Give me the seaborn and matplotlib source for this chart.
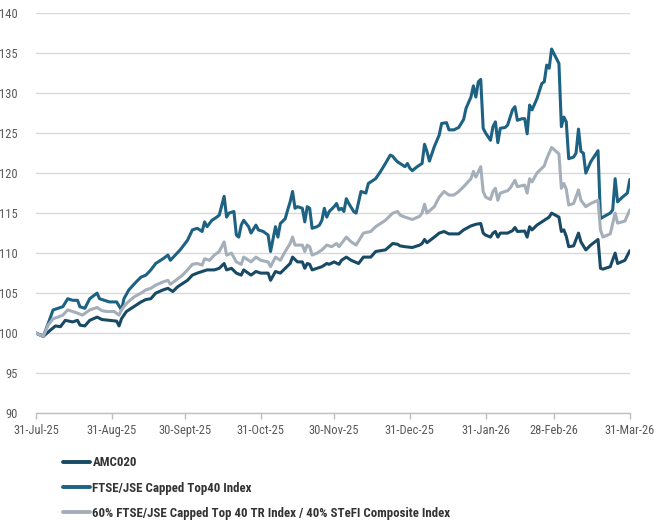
import matplotlib
matplotlib.use("Agg")
import matplotlib.pyplot as plt
import seaborn as sns
import pandas as pd

# ---------------- data (days since 31-Jul-2025, index level) ----------------
start_date = "2025-07-31"

amc_days = [0, 3, 6, 8, 10, 12, 15, 17, 18, 20, 22, 25, 27, 30, 33, 34, 35, 37, 40, 43, 45, 47, 49, 52, 54, 56, 58,
            60, 62, 64, 66, 68, 70, 73, 75, 77, 78, 80, 82, 84, 85, 88, 90, 92, 95, 96, 98, 100, 102, 104, 105, 107,
            109, 110, 111, 112, 113, 115, 117, 119, 120, 122, 124, 125, 127, 129, 132, 134, 137, 139, 143, 146, 148,
            149, 151, 154, 157, 158, 159, 160, 163, 165, 167, 169, 173, 175, 178, 180, 182, 183, 184, 186, 187, 188,
            189, 190, 193, 195, 196, 197, 200, 201, 202, 203, 205, 208, 210, 211, 214, 215, 216, 217, 218, 220, 222,
            223, 225, 227, 230, 231, 232, 235, 237, 238, 241, 243]
amc_values = [100, 99.6, 100.4, 100.9, 100.8, 101.6, 101.4, 101.6, 101.0, 100.9, 101.6, 102.0, 101.7, 101.6, 101.5,
              100.9, 101.8, 102.7, 103.3, 103.9, 104.2, 104.3, 105.0, 105.4, 105.6, 105.2, 105.8, 106.2, 106.6,
              107.25, 107.5, 107.7, 107.9, 107.9, 108.1, 108.7, 107.9, 108.1, 107.5, 107.25, 107.9, 107.25, 107.7,
              107.5, 107.5, 106.6, 107.7, 107.5, 108.1, 108.7, 109.5, 108.9, 108.9, 108.1, 108.7, 108.6, 107.9,
              108.1, 108.3, 108.7, 108.6, 108.9, 108.6, 109.1, 109.5, 109.1, 108.7, 109.5, 109.5, 110.2, 110.4,
              111.2, 111.1, 110.9, 110.8, 110.7, 111.0, 111.2, 111.7, 111.3, 112.0, 112.5, 112.7, 112.4, 112.4,
              112.9, 113.4, 113.6, 113.7, 112.5, 112.25, 112.0, 112.5, 112.7, 112.0, 112.5, 112.5, 112.8, 113.2,
              112.7, 112.75, 112.0, 113.3, 112.9, 113.5, 114.1, 114.5, 115.0, 114.5, 112.7, 112.9, 112.1, 110.8,
              110.9, 112.5, 111.4, 110.4, 111.0, 111.7, 108.1, 108.0, 108.3, 110.0, 108.7, 109.1, 110.3]

ftse_days = [0, 3, 5, 7, 9, 11, 13, 15, 17, 18, 20, 22, 25, 26, 28, 30, 33, 35, 36, 38, 41, 43, 45, 47, 49, 52, 54,
             55, 57, 59, 60, 62, 63, 64, 66, 68, 69, 70, 72, 74, 75, 77, 78, 79, 81, 82, 83, 84, 85, 87, 88, 90, 91,
             93, 95, 96, 98, 99, 100, 102, 103, 104, 105, 106, 107, 109, 110, 111, 112, 113, 115, 116, 117, 118, 119,
             120, 122, 123, 124, 125, 126, 127, 128, 130, 131, 133, 135, 136, 139, 141, 143, 145, 146, 147, 148, 149,
             151, 152, 153, 154, 156, 158, 159, 160, 161, 163, 165, 166, 168, 169, 171, 173, 175, 176, 178, 179, 180,
             181, 182, 183, 184, 186, 187, 188, 189, 190, 192, 193, 195, 196, 197, 199, 200, 201, 202, 203, 205, 207,
             208, 209, 210, 211, 214, 215, 216, 217, 218, 220, 221, 222, 223, 224, 225, 227, 230, 231, 232, 235, 236,
             237, 238, 240, 242, 243]
ftse_values = [100, 99.6, 101.2, 102.9, 103.1, 103.3, 104.3, 104.1, 104.1, 103.3, 103.1, 104.3, 105.0, 104.3, 104.1,
               103.9, 103.9, 102.9, 104.3, 105.4, 106.4, 107.0, 107.25, 107.9, 108.7, 109.3, 109.75, 109.1, 109.75,
               110.4, 110.8, 111.6, 112.25, 112.9, 113.1, 112.7, 113.9, 113.3, 114.1, 114.5, 114.75, 117.1, 114.5,
               115.0, 115.2, 112.25, 112.0, 113.5, 114.1, 113.3, 112.5, 113.5, 112.9, 112.7, 112.25, 110.2, 113.3,
               112.0, 113.7, 114.3, 115.4, 116.4, 117.7, 115.6, 115.8, 115.6, 113.9, 115.8, 115.6, 113.1, 113.3,
               113.5, 114.1, 115.6, 114.5, 115.2, 115.8, 116.2, 115.4, 115.6, 115.2, 116.8, 116.2, 115.2, 115.0,
               117.7, 117.5, 118.7, 119.3, 120.2, 121.2, 122.25, 122.1, 121.7, 121.4, 121.2, 120.8, 121.2, 120.6,
               120.3, 120.8, 121.2, 123.6, 122.7, 121.5, 123.3, 124.75, 126.2, 126.3, 125.4, 125.4, 125.7, 126.7,
               128.1, 129.5, 130.9, 129.5, 131.4, 131.7, 125.6, 125.0, 124.1, 125.8, 126.4, 123.8, 125.6, 125.7,
               126.0, 127.9, 128.3, 126.6, 126.8, 126.8, 124.9, 128.5, 127.9, 129.3, 131.2, 131.4, 133.5, 133.1,
               135.5, 133.7, 125.8, 127.0, 126.4, 121.8, 122.0, 122.5, 125.5, 122.7, 122.5, 120.0, 121.4, 122.8,
               114.3, 114.5, 115.0, 115.4, 119.3, 116.4, 117.0, 117.5, 119.2]

blend_days = [0, 3, 5, 7, 9, 11, 13, 15, 17, 19, 22, 25, 27, 29, 32, 34, 35, 37, 40, 43, 45, 47, 49, 52, 54, 55, 58,
              60, 62, 64, 66, 68, 69, 71, 73, 75, 77, 78, 80, 82, 84, 85, 88, 90, 92, 95, 96, 98, 100, 102, 104, 105,
              106, 109, 110, 111, 112, 113, 115, 117, 119, 121, 123, 124, 127, 129, 131, 134, 137, 139, 143, 146, 148,
              149, 151, 154, 157, 158, 159, 160, 163, 165, 167, 169, 171, 173, 175, 178, 179, 180, 182, 183, 184, 186,
              187, 188, 189, 190, 193, 194, 196, 197, 200, 201, 202, 203, 205, 208, 209, 211, 214, 215, 216, 217, 218,
              220, 222, 223, 225, 227, 230, 231, 232, 235, 237, 238, 241, 243]
blend_values = [100, 99.6, 101.0, 101.8, 102.0, 102.25, 102.9, 102.7, 102.5, 102.25, 102.9, 103.2, 102.8, 102.7,
                102.7, 102.25, 102.9, 103.7, 104.5, 105.0, 105.4, 105.6, 106.0, 106.4, 106.6, 106.1, 106.8, 107.25,
                107.9, 108.6, 108.7, 108.5, 109.3, 109.1, 109.75, 110.2, 111.4, 109.75, 110.0, 108.9, 108.6, 109.5,
                108.9, 109.5, 109.1, 108.9, 108.3, 109.5, 109.1, 110.2, 111.2, 112.0, 111.0, 111.0, 110.2, 111.0,
                110.8, 109.75, 110.0, 110.4, 111.0, 110.8, 111.2, 110.8, 112.0, 111.4, 111.0, 112.5, 112.7, 113.3,
                114.1, 115.0, 115.2, 114.75, 114.5, 114.2, 114.6, 115.0, 116.1, 115.0, 115.8, 117.0, 117.7, 117.25,
                117.25, 117.7, 118.3, 119.3, 120.2, 119.5, 120.8, 117.7, 117.0, 116.7, 117.7, 118.1, 116.6, 117.5,
                117.8, 118.1, 119.1, 118.3, 118.5, 117.5, 119.3, 118.9, 120.0, 120.9, 121.8, 123.2, 122.4, 118.1,
                118.7, 118.0, 116.0, 116.2, 117.9, 116.6, 115.8, 116.2, 116.6, 112.9, 112.0, 112.4, 115.0, 113.75,
                114.0, 115.4]

series_names = ["AMC020",
                "FTSE/JSE Capped Top40 Index",
                "60% FTSE/JSE Capped Top 40 TR Index / 40% STeFI Composite Index"]
series_colors = ["#184a66", "#1d6183", "#a4afba"]

tick_dates = ["2025-07-31", "2025-08-31", "2025-09-30", "2025-10-31", "2025-11-30",
              "2025-12-31", "2026-01-31", "2026-02-28", "2026-03-31"]
tick_labels = ["31-Jul-25", "31-Aug-25", "30-Sept-25", "31-Oct-25", "30-Nov-25",
               "31-Dec-25", "31-Jan-26", "28-Feb-26", "31-Mar-26"]
y_ticks = [90, 95, 100, 105, 110, 115, 120, 125, 130, 135, 140]

# ---------------- build long table ----------------
t0 = pd.Timestamp(start_date)
frames = []
for name, d, v in zip(series_names, [amc_days, ftse_days, blend_days],
                      [amc_values, ftse_values, blend_values]):
    frames.append(pd.DataFrame({"date": t0 + pd.to_timedelta(d, unit="D"),
                                "value": v, "series": name}))
df = pd.concat(frames, ignore_index=True)

# ---------------- plot ----------------
sns.set_theme(style="white")
fams = ["Roboto Condensed", "PT Sans Narrow", "Archivo Narrow", "DejaVu Sans"]
plt.rcParams["font.family"] = fams

fig = plt.figure(figsize=(6.54, 5.21), dpi=100)
ax = fig.add_axes([0.055, 0.207, 0.908, 0.768])

sns.lineplot(data=df, x="date", y="value", hue="series", hue_order=series_names,
             palette=dict(zip(series_names, series_colors)), estimator=None, sort=False,
             linewidth=2.2, ax=ax, legend=False)

ax.set_ylim(90, 140)
ax.set_xlim(pd.Timestamp(tick_dates[0]), pd.Timestamp(tick_dates[-1]))
ax.set_yticks(y_ticks)
ax.set_yticklabels([str(t) for t in y_ticks])
ax.set_xticks([pd.Timestamp(t) for t in tick_dates])
ax.set_xticklabels(tick_labels)
ax.set_xlabel("")
ax.set_ylabel("")

ax.grid(axis="y", color="#d9d9d9", linewidth=1.0)
ax.set_axisbelow(True)
for s in ["left", "right", "top"]:
    ax.spines[s].set_visible(False)
ax.spines["bottom"].set_color("#bfbfbf")
ax.spines["bottom"].set_linewidth(1.0)

ax.tick_params(axis="x", which="both", bottom=True, length=4, width=1.0, color="#bfbfbf",
               labelsize=9, labelcolor="#595959", pad=4)
ax.tick_params(axis="y", left=False, labelsize=9, labelcolor="#595959", pad=7)

# legend
handles = [plt.Line2D([0], [0], color=c, linewidth=2.8) for c in series_colors]
leg = fig.legend(handles, series_names, loc="upper left", bbox_to_anchor=(0.096, 0.124),
                 frameon=False, handlelength=2.1, handletextpad=0.2, labelspacing=0.95,
                 borderaxespad=0, borderpad=0,
                 prop={"family": fams, "weight": "bold", "size": 9.3})
for t in leg.get_texts():
    t.set_color("#333333")

fig.savefig("out.png", dpi=100)
